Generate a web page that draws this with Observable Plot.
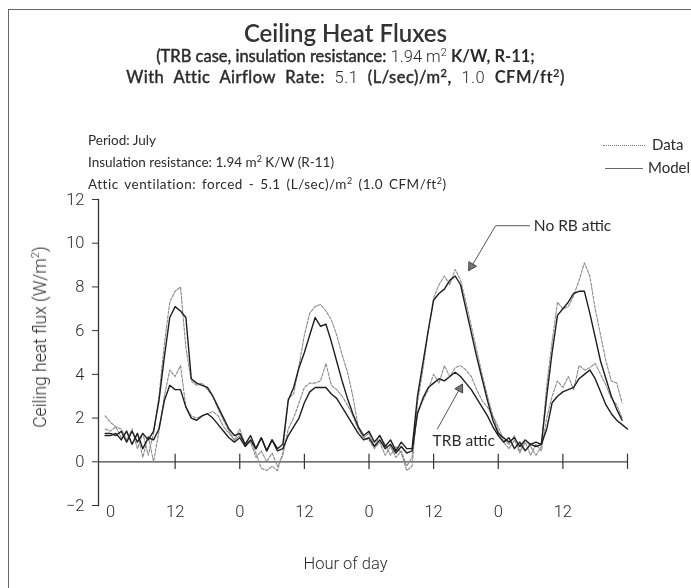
<!DOCTYPE html>
<html>
<head>
<meta charset="utf-8">
<script src="https://cdn.jsdelivr.net/npm/d3@7"></script>
<script src="https://cdn.jsdelivr.net/npm/@observablehq/plot@0.6"></script>
<style>
  html, body { margin: 0; padding: 0; background: #fff; }
  #wrap { position: relative; width: 691px; height: 588px; overflow: hidden; background: #fff; }
  .ov { position: absolute; white-space: nowrap; color: #2b2b2b; }
  .gill { font-family: Lato, "Open Sans", sans-serif; }
  .helv { font-family: Roboto, "Liberation Sans", sans-serif; font-weight: 300; }
  #chart { position: absolute; left: 0; top: 0; }
  #chart svg { will-change: transform; }
  .n { font-family: Roboto, "Liberation Sans", sans-serif; font-weight: 300; -webkit-text-stroke: 0; }
  .med { font-weight: 400; -webkit-text-stroke: 0.45px #2b2b2b; }
  .bd { font-weight: 700; -webkit-text-stroke: 0; }
  sup { line-height: 0; }
</style>
</head>
<body>
<div id="wrap">
  <div style="position:absolute;left:8px;top:9px;width:700px;height:700px;border-top:1.3px solid #666;border-left:1.3px solid #666;"></div>
  <div id="chart"></div>
  <div class="ov gill" style="left:0;width:691px;text-align:center;top:18px;font-size:24px;font-weight:600;color:#333;">Ceiling Heat Fluxes</div>
  <div class="ov gill med" style="left:0;width:691px;text-align:center;top:46px;font-size:16.5px;">(TRB case, insulation resistance: <span class="n">1.94 m<sup style="font-size:11px">2</sup></span> <span class="bd">K/W, R-11;</span></div>
  <div class="ov gill med" style="left:0;width:691px;text-align:center;top:67px;font-size:16.5px;letter-spacing:0.5px;word-spacing:5px;">With Attic Airflow Rate: <span class="n">5.1 </span>(L/sec)/m<sup style="font-size:11px">2</sup>, <span class="n">1.0 </span><span class="bd">CFM/ft<sup style="font-size:11px">2</sup></span>)</div>
  <div class="ov gill" style="left:88px;top:132px;font-size:13.5px;">Period: July</div>
  <div class="ov gill" style="left:88px;top:154px;font-size:13.5px;">Insulation resistance: 1.94 m<sup style="font-size:9px">2</sup> K/W (R-11)</div>
  <div class="ov gill" style="left:88px;top:176px;font-size:13.5px;letter-spacing:0.5px;word-spacing:2px;">Attic ventilation: forced - 5.1 (L/sec)/m<sup style="font-size:9px">2</sup> (1.0 CFM/ft<sup style="font-size:9px">2</sup>)</div>
  <div style="position:absolute;left:603px;top:145px;width:42px;border-top:1.2px dotted #777;"></div>
  <div class="ov gill" style="left:652px;top:135px;font-size:15px;">Data</div>
  <div style="position:absolute;left:605px;top:168px;width:38px;border-top:1.2px solid #666;"></div>
  <div class="ov gill" style="left:648px;top:158px;font-size:15px;">Model</div>
  <div class="ov helv" style="left:40px;top:337px;font-size:17.5px;transform:translate(-50%,-50%) rotate(-90deg);">Ceiling heat flux (W/m<sup style="font-size:11px">2</sup>)</div>
  <div class="ov helv" style="left:0;width:691px;text-align:center;top:554px;font-size:16.5px;">Hour of day</div>
</div>
<script>
// hourly values, first value at hour START_HOUR
const START_HOUR = -1;
const noRbData = [2.1,1.8,1.6,1.5,1.0,1.5,0.6,1.3,0.3,1.3,3.0,5.4,7.3,7.8,8.0,5.2,3.7,3.5,3.6,3.3,3.0,2.4,1.9,1.4,1.0,
  1.5,0.8,1.0,0.4,-0.3,-0.4,-0.2,-0.4,0.4,2.9,3.1,4.4,5.8,6.8,7.1,7.2,6.9,6.5,5.8,4.9,4.1,3.0,1.6,1.1,
  1.3,0.7,1.2,0.8,0.3,0.7,0.4,-0.4,-0.2,2.7,4.2,6.0,7.5,8.1,8.5,8.1,8.8,8.3,7.3,6.2,5.1,4.0,3.0,2.1,
  1.6,1.0,0.8,1.2,0.5,1.0,0.7,0.3,0.7,3.5,5.5,7.3,7.0,7.1,7.6,8.3,9.1,8.5,7.0,5.8,4.6,3.7,3.6,2.7];
const noRbModel = [1.3,1.3,1.2,1.4,0.9,1.4,0.9,1.3,1.0,1.4,2.8,4.8,6.6,7.1,6.9,6.6,3.8,3.6,3.5,3.4,3.0,2.5,2.0,1.5,1.2,
  1.3,0.8,1.2,0.6,1.1,0.5,1.0,0.6,0.8,2.8,3.4,4.3,5.0,5.8,6.6,6.2,6.3,5.5,4.6,3.7,2.9,2.2,1.6,1.2,
  1.4,0.9,1.2,0.7,1.0,0.5,0.9,0.6,0.6,3.0,4.5,6.0,7.4,7.7,7.9,8.3,8.5,8.1,7.0,5.9,4.8,3.8,2.8,1.9,
  1.3,1.1,0.9,1.1,0.7,1.0,0.8,0.9,0.8,3.0,5.0,6.7,7.0,7.3,7.7,7.8,7.8,6.8,5.7,4.6,3.8,3.0,2.4,1.9];
const trbData = [1.5,1.4,1.6,1.1,1.4,0.8,1.3,0.2,1.2,0.0,1.4,3.0,4.2,3.9,4.4,2.5,2.1,2.0,2.1,2.2,2.3,2.1,1.6,1.3,1.0,
  1.2,0.7,0.9,0.2,0.5,0.0,0.4,-0.2,0.3,1.5,2.0,2.7,3.4,3.6,3.6,3.7,4.5,3.5,3.3,3.0,2.6,2.1,1.5,1.1,
  1.0,0.6,0.9,0.3,0.7,0.2,0.5,-0.2,0.2,2.3,2.8,3.3,4.0,3.6,4.4,3.9,4.3,4.4,4.2,3.9,3.3,2.8,2.5,2.1,
  1.4,0.9,0.6,1.0,0.4,0.9,0.3,0.8,0.5,2.0,3.0,3.7,3.4,3.9,3.3,4.4,4.2,4.3,4.5,4.0,3.5,2.9,2.6,2.0];
const trbModel = [1.2,1.2,1.3,1.0,1.4,0.8,1.3,0.6,1.1,1.0,1.5,2.8,3.5,3.3,3.3,2.5,2.0,1.9,2.1,2.2,2.0,1.7,1.4,1.1,0.9,
  1.1,0.7,1.0,0.6,1.1,0.5,1.0,0.5,0.6,1.2,1.6,2.0,2.7,3.2,3.4,3.4,3.4,3.1,2.9,2.5,2.1,1.7,1.3,1.0,
  1.1,0.7,1.0,0.6,0.8,0.4,0.7,0.4,0.5,2.2,2.9,3.4,3.6,3.8,3.7,3.9,4.1,3.9,3.6,3.3,2.9,2.5,2.1,1.6,
  1.2,0.9,1.1,0.6,0.9,0.5,0.8,0.7,0.8,1.5,2.7,3.0,3.2,3.3,3.4,3.8,4.0,4.2,3.8,3.2,2.6,2.2,1.9,1.7,1.5];

const xTickHours = [12, 24, 36, 48, 60, 72, 84, 96];
const xLabelHours = [0, 12, 24, 36, 48, 60, 72, 84];
const yTicks = [-2, 0, 2, 4, 6, 8, 10, 12];

// annotation anchors (hour, flux)
const noRbLabel = {x: 78.6, y: 10.8, text: "No RB attic"};
const noRbLeader = [{x: 77.8, y: 10.8}, {x: 71.5, y: 10.8}, {x: 66.6, y: 8.75}];
const noRbHead = {x: 67.0, y: 8.95, rotate: 211};
const trbLabel = {x: 59.8, y: 0.95, text: "TRB attic"};
const trbLeader = [{x: 60.7, y: 1.5}, {x: 65.3, y: 3.55}];
const trbHead = {x: 64.9, y: 3.35, rotate: 29};

const toRows = arr => arr.map((v, i) => ({h: START_HOUR + i, v}));

const chart = Plot.plot({
  width: 691,
  height: 588,
  marginLeft: 98,
  marginRight: 64,
  marginTop: 199,
  marginBottom: 83,
  x: {domain: [-2.23, 96], axis: null},
  y: {domain: [-2, 12], axis: null},
  style: {background: "transparent", fontFamily: "Roboto, 'Liberation Sans', sans-serif", fontSize: "16px", color: "#2b2b2b"},
  marks: [
    Plot.frame({anchor: "left", stroke: "#333", strokeWidth: 1.3}),
    Plot.axisY(yTicks, {anchor: "left", tickSize: 6, tickPadding: 8, fontSize: 16.5, fontWeight: 300, label: null, stroke: "#333"}),
    Plot.ruleY([0], {stroke: "#444", strokeWidth: 1.2}),
    Plot.ruleX(xTickHours, {y1: -0.35, y2: 0.35, stroke: "#333", strokeWidth: 1.2}),
    Plot.text(xLabelHours, {x: d => d, y: -2, dy: 6, text: d => String(d % 24), fontSize: 16.5, fontWeight: 300, fill: "#2b2b2b"}),
    Plot.line(toRows(noRbData), {x: "h", y: "v", stroke: "#8a8a8a", strokeWidth: 1.1, strokeDasharray: "3,1.5"}),
    Plot.line(toRows(trbData), {x: "h", y: "v", stroke: "#8a8a8a", strokeWidth: 1.1, strokeDasharray: "3,1.5"}),
    Plot.line(toRows(noRbModel), {x: "h", y: "v", stroke: "#1e1e1e", strokeWidth: 1.4}),
    Plot.line(toRows(trbModel), {x: "h", y: "v", stroke: "#1e1e1e", strokeWidth: 1.4}),
    Plot.line(noRbLeader, {x: "x", y: "y", stroke: "#555", strokeWidth: 1}),
    Plot.line(trbLeader, {x: "x", y: "y", stroke: "#555", strokeWidth: 1}),
    Plot.dot([noRbHead, trbHead], {x: "x", y: "y", rotate: "rotate", symbol: "triangle", r: 3.3, fill: "#777", stroke: "#333", strokeWidth: 0.8}),
    Plot.text([noRbLabel, trbLabel], {x: "x", y: "y", text: "text", textAnchor: "start", fontSize: 15.5, fontFamily: "Lato, 'Open Sans', sans-serif", fontWeight: 400, fill: "#2b2b2b"})
  ]
});
document.getElementById("chart").appendChild(chart);
</script>
</body>
</html>
